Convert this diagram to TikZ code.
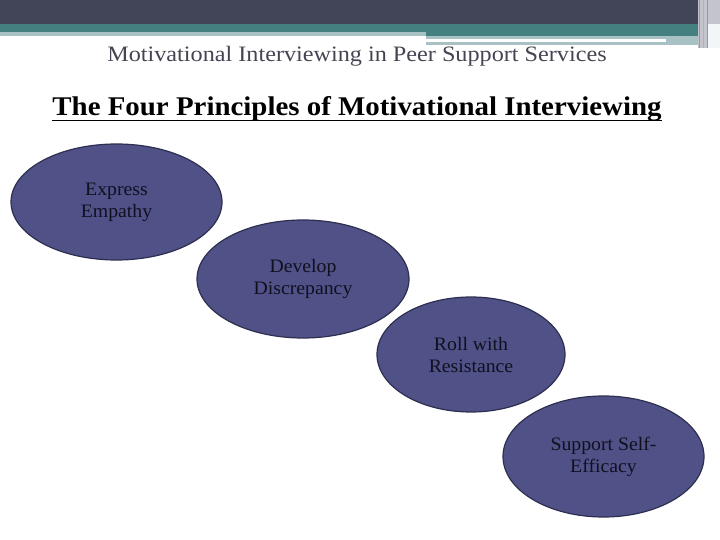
\documentclass[tikz,border=0pt]{standalone}
\usepackage{fontspec}
\setmainfont{Liberation Serif}
\newfontfamily\titlefont[FakeStretch=1.1]{Liberation Serif}
\newfontfamily\headfont[FakeStretch=1.07]{Liberation Serif}
\newfontfamily\ovalfont[FakeStretch=1.04]{Liberation Serif}
\usetikzlibrary{shapes.geometric}
\definecolor{bandDark}{HTML}{424458}
\definecolor{bandTeal}{HTML}{44807F}
\definecolor{bandLight}{HTML}{A7C1C4}
\definecolor{edgeGray}{HTML}{C4C4CC}
\definecolor{ovalFill}{HTML}{4F5187}
\definecolor{ovalLine}{HTML}{2E2F50}
\definecolor{ovalText}{HTML}{10101F}
\definecolor{titleText}{HTML}{444452}
\begin{document}
\begin{tikzpicture}[x=1pt,y=-1pt,
  principle/.style={ellipse,draw=ovalLine,line width=1.2pt,fill=ovalFill,
    text=ovalText,align=center,inner sep=0pt,font=\ovalfont\fontsize{19}{22}\selectfont,
    execute at begin node={\rule{0pt}{23pt}}}]
\useasboundingbox (0,0) rectangle (720,540);
% banner
\fill[bandDark] (0,0) rectangle (720,24);
\fill[bandTeal] (0,24) rectangle (700,32);
\fill[bandTeal] (426,24) rectangle (700,36);
\fill[bandLight] (0,32) rectangle (426,36);
\fill[bandLight] (426,36) rectangle (700,45);
\fill[white] (426,39) rectangle (666,42);
\fill[edgeGray] (698,0) rectangle (720,48);
\fill[white!85!bandLight] (708,24) rectangle (720,48);
\draw[gray!80,line width=0.8pt] (699,0) -- (699,48);
\draw[gray!60,line width=0.8pt] (703,0) -- (703,48);
\draw[gray!80,line width=0.8pt] (707,0) -- (707,48);
% titles
\node[anchor=base,inner sep=0pt,text=titleText,font=\titlefont\fontsize{22}{26}\selectfont] (title) at (357,62) {Motivational Interviewing in Peer Support Services};
\node[anchor=base,inner sep=0pt,font=\headfont\bfseries\fontsize{27}{31}\selectfont] (head) at (357,116) {The Four Principles of Motivational Interviewing};
\draw[line width=1.6pt] ([yshift=-4.5pt]head.base west) -- ([yshift=-4.5pt]head.base east);
% ovals
\node[principle,minimum width=211,minimum height=116] (p1) at (116.5,202) {Express\\Empathy};
\node[principle,minimum width=212,minimum height=118] (p2) at (303,279) {Develop\\Discrepancy};
\node[principle,minimum width=188,minimum height=115] (p3) at (471,354.5) {Roll with\\Resistance};
\node[principle,minimum width=201,minimum height=121] (p4) at (603.5,456.5) {Support Self-\\Efficacy};
\end{tikzpicture}
\end{document}
